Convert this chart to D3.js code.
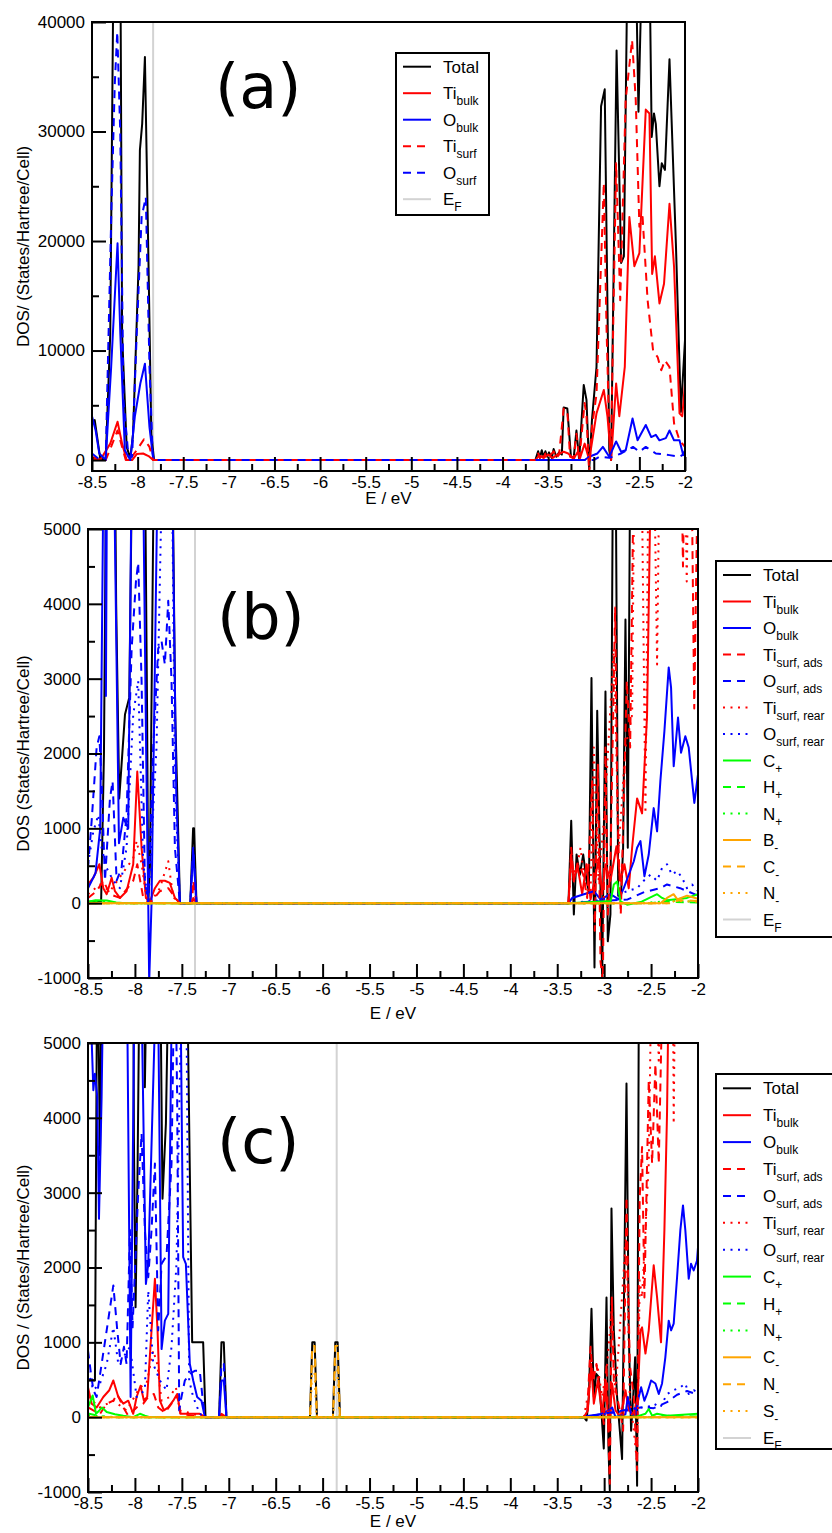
<!DOCTYPE html>
<html>
<head>
<meta charset="utf-8">
<script src="https://cdn.jsdelivr.net/npm/d3@7"></script>
<style>
body { margin: 0; background: #fff; }
svg text { font-family: "Liberation Sans", Arial, Helvetica, sans-serif; }
</style>
</head>
<body>
<svg id="chart" width="832" height="1533"></svg>
<script>
// ---- tick values ----
const xMajor = [-8.5, -8, -7.5, -7, -6.5, -6, -5.5, -5, -4.5, -4, -3.5, -3, -2.5, -2]
const xMinor = [-8.25, -7.75, -7.25, -6.75, -6.25, -5.75, -5.25, -4.75, -4.25, -3.75, -3.25, -2.75, -2.25]
const yMajorA = [0, 10000, 20000, 30000, 40000]
const yMinorA = [5000, 15000, 25000, 35000]
const yMajorBC = [-1000, 0, 1000, 2000, 3000, 4000, 5000]
const yMinorBC = [-500, 500, 1500, 2500, 3500, 4500]

// ---- Fermi energies ----
const efA = -7.83
const efB = -7.36
const efC = -5.85

// ---- legend labels [main, subscript] ----
const legendA = [["Total", ""], ["Ti", "bulk"], ["O", "bulk"], ["Ti", "surf"], ["O", "surf"], ["E", "F"]]
const legendB = [["Total", ""], ["Ti", "bulk"], ["O", "bulk"], ["Ti", "surf, ads"], ["O", "surf, ads"],
    ["Ti", "surf, rear"], ["O", "surf, rear"], ["C", "+"], ["H", "+"], ["N", "+"], ["B", "-"], ["C", "-"], ["N", "-"], ["E", "F"]]
const legendC = [["Total", ""], ["Ti", "bulk"], ["O", "bulk"], ["Ti", "surf, ads"], ["O", "surf, ads"],
    ["Ti", "surf, rear"], ["O", "surf, rear"], ["C", "+"], ["H", "+"], ["N", "+"], ["C", "-"], ["N", "-"], ["S", "-"], ["E", "F"]]

// ---- panel (a) data: [E (eV), DOS] ----
const aTotal = [[-8.5,3500],[-8.47,3650],[-8.41,150],[-8.35,0],[-8.3,11500],[-8.27,40000],[-8.25,48000],[-8.19,48000],[-8.17,11500],[-8.12,1200],[-8.08,150],[-8.05,2400],[-7.99,17600],[-7.975,28300],[-7.95,30700],[-7.92,36800],[-7.88,17600],[-7.85,2400],[-7.82,0],
    [-3.64,0],[-3.61,800],[-3.59,200],[-3.57,900],[-3.55,300],[-3.53,800],[-3.51,300],[-3.49,700],[-3.46,200],[-3.44,1000],[-3.41,300],[-3.38,700],[-3.35,500],[-3.33,4800],[-3.29,4700],[-3.25,300],[-3.22,200],[-3.19,2700],[-3.16,0],[-3.11,6850],[-3.08,5500],[-3.05,-900],[-3.02,3650],[-2.97,8500],[-2.92,32300],[-2.88,33850],[-2.83,900],[-2.81,0],[-2.75,37400],[-2.7,18000],[-2.67,18600],[-2.63,46000],[-2.54,46000],[-2.51,31800],[-2.47,46000],[-2.39,46000],[-2.365,29500],[-2.34,31650],[-2.32,30700],[-2.28,25000],[-2.255,27100],[-2.22,26500],[-2.17,36600],[-2.1,19800],[-2.045,4400],[-2.0,10960]]
const aTiBulk = [[-8.5,150],[-8.41,0],[-8.3,1500],[-8.22,3500],[-8.17,1500],[-8.12,0],[-8.06,0],[-8.01,550],[-7.94,600],[-7.88,360],[-7.83,0],
    [-3.64,0],[-3.6,400],[-3.55,200],[-3.5,500],[-3.45,200],[-3.4,500],[-3.33,760],[-3.28,600],[-3.22,100],[-3.18,700],[-3.15,200],[-3.1,1500],[-3.05,0],[-2.97,4260],[-2.89,6400],[-2.85,4000],[-2.81,0],[-2.755,7000],[-2.72,4000],[-2.66,8500],[-2.61,22200],[-2.555,17700],[-2.5,18900],[-2.43,32000],[-2.39,31650],[-2.36,17000],[-2.33,18600],[-2.28,14300],[-2.23,16100],[-2.17,23400],[-2.12,17650],[-2.06,4260],[-2.03,4000],[-2.0,7000]]
const aOBulk = [[-8.5,4000],[-8.46,2700],[-8.42,600],[-8.35,0],[-8.29,8500],[-8.22,19800],[-8.19,11600],[-8.14,900],[-8.08,0],[-8.03,4000],[-7.97,7000],[-7.92,8800],[-7.87,3000],[-7.83,150],[-7.81,0],
    [-3.1,0],[-3.05,300],[-2.96,600],[-2.9,1200],[-2.83,300],[-2.755,1700],[-2.7,760],[-2.65,900],[-2.575,3800],[-2.52,1800],[-2.43,3200],[-2.37,2100],[-2.32,2300],[-2.28,1800],[-2.21,2000],[-2.17,2700],[-2.12,1800],[-2.06,1800],[-2.02,450],[-2.0,900]]
const aTiSurf = [[-8.5,300],[-8.41,0],[-8.35,0],[-8.3,1000],[-8.22,2700],[-8.17,1200],[-8.13,0],[-8.09,0],[-8.01,900],[-7.93,1900],[-7.87,1200],[-7.83,0],
    [-3.64,0],[-3.61,600],[-3.59,200],[-3.57,700],[-3.55,200],[-3.53,600],[-3.5,300],[-3.47,500],[-3.44,800],[-3.41,200],[-3.38,500],[-3.33,4700],[-3.29,4500],[-3.26,300],[-3.22,200],[-3.19,2400],[-3.16,0],[-3.1,5200],[-3.08,4000],[-3.05,-1200],[-3.02,3000],[-2.97,6000],[-2.89,25300],[-2.86,12000],[-2.83,2400],[-2.81,1500],[-2.755,27100],[-2.71,14600],[-2.65,32900],[-2.58,38350],[-2.54,32900],[-2.5,21300],[-2.465,22200],[-2.41,14600],[-2.35,10000],[-2.3,9400],[-2.26,8200],[-2.22,9100],[-2.17,8500],[-2.12,3350],[-2.06,1800],[-2.0,1200]]
const aOSurf = [[-8.5,600],[-8.41,0],[-8.35,0],[-8.285,23700],[-8.25,34400],[-8.223,39100],[-8.19,29800],[-8.155,5500],[-8.1,300],[-8.06,300],[-8.01,11500],[-7.956,22200],[-7.91,24000],[-7.87,8500],[-7.835,600],[-7.82,0],
    [-3.0,0],[-2.94,300],[-2.83,200],[-2.7,600],[-2.57,1200],[-2.5,760],[-2.43,1200],[-2.32,600],[-2.17,450],[-2.06,300],[-2.0,600]]

// ---- panel (b) data ----
const bTotal = [[-8.5,20],[-8.36,30],[-8.33,2000],[-8.3,7000],[-8.22,7000],[-8.2,4000],[-8.167,1400],[-8.106,2520],[-8.06,2750],[-8.02,7000],[-7.9,7000],[-7.87,2500],[-7.858,0],[-7.84,500],[-7.79,7000],[-7.61,7000],[-7.57,2500],[-7.52,0],[-7.41,0],[-7.38,1000],[-7.37,1000],[-7.344,0],
    [-3.38,0],[-3.351,1100],[-3.323,-150],[-3.294,650],[-3.259,380],[-3.223,650],[-3.188,300],[-3.163,160],[-3.135,3010],[-3.103,-860],[-3.074,2570],[-3.021,-1000],[-2.986,2830],[-2.961,-510],[-2.933,-150],[-2.904,6500],[-2.88,6500],[-2.85,100],[-2.82,100],[-2.798,740],[-2.773,3790],[-2.748,740],[-2.72,6500],[-2.0,6500]]
const bTiBulk = [[-8.5,250],[-8.443,340],[-8.379,520],[-8.337,200],[-8.301,120],[-8.248,340],[-8.213,160],[-8.16,70],[-8.089,160],[-8.018,520],[-7.975,1760],[-7.929,740],[-7.883,70],[-7.84,25],[-7.787,200],[-7.734,300],[-7.681,300],[-7.628,270],[-7.574,70],[-7.521,0],[-7.39,0],[-7.379,70],[-7.344,0],
    [-3.38,0],[-3.351,650],[-3.323,290],[-3.287,520],[-3.234,120],[-3.188,520],[-3.145,50],[-3.103,300],[-3.057,600],[-3.021,120],[-2.986,520],[-2.933,300],[-2.869,760],[-2.826,300],[-2.784,520],[-2.738,200],[-2.702,740],[-2.649,1400],[-2.596,1200],[-2.543,2500],[-2.5,6000],[-2.0,6000]]
const bOBulk = [[-8.5,200],[-8.42,400],[-8.37,1000],[-8.33,6500],[-8.315,6500],[-8.309,2770],[-8.295,6500],[-8.23,6500],[-8.17,800],[-8.124,1140],[-8.071,1000],[-8.03,6500],[-7.92,6500],[-7.88,2000],[-7.858,0],[-7.848,-1050],[-7.823,0],[-7.75,6500],[-7.61,6500],[-7.56,1500],[-7.521,0],[-7.41,0],[-7.379,700],[-7.344,0],
    [-3.38,0],[-3.34,70],[-3.216,120],[-3.11,160],[-3.039,50],[-2.933,120],[-2.844,50],[-2.791,200],[-2.738,380],[-2.684,560],[-2.649,740],[-2.613,830],[-2.571,360],[-2.525,650],[-2.472,1270],[-2.436,960],[-2.401,1630],[-2.358,2300],[-2.312,3150],[-2.287,2880],[-2.259,1830],[-2.213,2480],[-2.181,2010],[-2.135,2230],[-2.099,2080],[-2.039,1340],[-2.0,1720]]
const bTiSurfAds = [[-8.5,70],[-8.408,160],[-8.337,300],[-8.266,120],[-8.16,70],[-8.018,300],[-7.975,520],[-7.911,70],[-7.84,0],[-7.734,160],[-7.645,200],[-7.557,50],[-7.521,0],[-7.39,0],[-7.379,300],[-7.344,0],
    [-3.38,0],[-3.351,740],[-3.323,300],[-3.27,520],[-3.223,380],[-3.181,70],[-3.128,1630],[-3.1,-370],[-3.067,1850],[-3.039,-780],[-3.014,-1040],[-2.986,2080],[-2.961,-150],[-2.933,520],[-2.883,3950],[-2.858,1190],[-2.823,-150],[-2.794,1190],[-2.759,2970],[-2.723,2080],[-2.688,5500],[-2.65,7000],[-2.6,9000],[-2.54,8000],[-2.47,9000],[-2.4,12000],[-2.26,15000],[-2.19,7000],[-2.16,4500],[-2.13,7000],[-2.07,6000],[-2.04,2600],[-2.0,6000]]
const bOSurfAds = [[-8.5,470],[-8.461,1100],[-8.408,2080],[-8.379,2230],[-8.355,1630],[-8.319,300],[-8.266,1400],[-8.238,1630],[-8.195,300],[-8.142,470],[-8.089,1180],[-8.035,3400],[-7.989,4300],[-7.965,4550],[-7.929,2970],[-7.894,300],[-7.858,0],[-7.805,2080],[-7.752,3400],[-7.716,3500],[-7.681,3190],[-7.645,4040],[-7.61,2970],[-7.574,740],[-7.521,0],[-7.41,0],[-7.379,740],[-7.344,0],
    [-3.38,0],[-2.75,50],[-2.57,150],[-2.4,200],[-2.33,250],[-2.19,200],[-2.0,100]]
const bTiSurfRear = [[-8.5,120],[-8.372,250],[-8.266,160],[-8.018,600],[-7.982,830],[-7.929,520],[-7.876,70],[-7.84,0],[-7.734,200],[-7.645,560],[-7.592,80],[-7.521,0],
    [-3.38,0],[-3.351,520],[-3.305,380],[-3.252,740],[-3.198,200],[-3.145,130],[-3.11,2080],[-3.06,300],[-2.996,1200],[-2.898,3400],[-2.844,740],[-2.773,2080],[-2.702,2520],[-2.67,7000],[-2.61,7000],[-2.56,1200],[-2.52,7000],[-2.48,7000],[-2.436,3190],[-2.4,7000],[-2.15,7000],[-2.12,4300],[-2.09,7000],[-2.0,7000]]
const bOSurfRear = [[-8.5,520],[-8.443,960],[-8.39,1180],[-8.355,740],[-8.301,470],[-8.23,300],[-8.16,200],[-8.089,740],[-8.018,2520],[-7.965,2970],[-7.911,520],[-7.858,0],[-7.77,2080],[-7.699,6500],[-7.61,6500],[-7.574,1630],[-7.521,0],
    [-3.38,0],[-3.04,40],[-2.755,160],[-2.649,200],[-2.578,300],[-2.507,380],[-2.436,300],[-2.383,470],[-2.33,520],[-2.277,380],[-2.223,430],[-2.17,340],[-2.117,200],[-2.064,250],[-2.0,160]]
const bCPlus = [[-8.5,20],[-8.42,40],[-8.3,35],[-8.2,10],[-8.1,0],[-3.38,0],[-2.93,30],[-2.897,250],[-2.862,290],[-2.826,25],[-2.755,-20],[-2.6,20],[-2.436,120],[-2.383,70],[-2.33,40],[-2.117,70],[-2.0,120]]
const bHPlus = [[-8.5,0],[-8.4,15],[-8.3,0],[-2.5,0],[-2.4,20],[-2.0,10]]
const bNPlus = [[-8.5,10],[-8.35,20],[-8.2,0],[-2.6,0],[-2.3,30],[-2.0,20]]
const bBMinus = [[-8.5,0],[-2.4,0],[-2.33,70],[-2.26,120],[-2.22,50],[-2.117,100],[-2.0,60]]
const bCMinus = [[-8.5,0],[-2.3,0],[-2.2,40],[-2.0,30]]
const bNMinus = [[-8.5,0],[-2.3,0],[-2.25,30],[-2.0,20]]

// ---- panel (c) data ----
const cTotal = [[-8.5,490],[-8.426,490],[-8.401,6500],[-8.372,3500],[-8.351,6500],[-8.018,6500],[-8.011,3740],[-7.993,1470],[-7.972,3300],[-7.947,6500],[-7.9,6500],[-7.894,4410],[-7.869,6500],[-7.734,6500],[-7.706,2920],[-7.67,3920],[-7.635,6500],[-7.45,6500],[-7.39,1000],[-7.273,1000],[-7.248,0],[-7.103,0],[-7.078,1000],[-7.053,1000],[-7.025,0],
    [-6.135,0],[-6.11,1000],[-6.085,1000],[-6.06,0],[-5.89,0],[-5.865,1000],[-5.84,1000],[-5.815,0],
    [-3.216,0],[-3.188,-45],[-3.163,270],[-3.135,1450],[-3.11,270],[-3.085,580],[-3.057,535],[-3.028,50],[-3.004,-420],[-2.975,1600],[-2.954,-400],[-2.94,-980],[-2.922,2790],[-2.897,1160],[-2.862,270],[-2.833,-180],[-2.809,-560],[-2.784,2050],[-2.762,4460],[-2.738,1160],[-2.713,-180],[-2.691,270],[-2.67,800],[-2.649,-915],[-2.628,6500],[-2.0,6500]]
const cTiBulk = [[-8.5,400],[-8.461,180],[-8.408,130],[-8.337,270],[-8.273,360],[-8.23,490],[-8.177,270],[-8.124,180],[-8.071,220],[-8.018,45],[-7.982,270],[-7.94,420],[-7.904,220],[-7.869,270],[-7.823,1160],[-7.787,1850],[-7.759,1160],[-7.734,220],[-7.691,90],[-7.645,130],[-7.592,220],[-7.55,310],[-7.514,45],[-7.45,45],[-7.309,45],[-7.248,0],[-7.103,0],[-7.078,45],[-7.025,0],
    [-3.216,0],[-3.174,90],[-3.138,710],[-3.11,180],[-3.067,490],[-3.021,45],[-2.986,490],[-2.95,-180],[-2.915,450],[-2.879,90],[-2.826,0],[-2.773,360],[-2.738,90],[-2.684,45],[-2.642,270],[-2.613,1160],[-2.596,1200],[-2.56,850],[-2.525,1160],[-2.472,2030],[-2.436,1600],[-2.394,1000],[-2.358,2500],[-2.33,4060],[-2.305,6500],[-2.0,6500]]
const cOBulk = [[-8.5,6500],[-8.443,4370],[-8.426,4590],[-8.401,4280],[-8.383,2650],[-8.355,4280],[-8.33,6500],[-8.089,6500],[-8.046,270],[-8.0,6500],[-7.94,6500],[-7.883,1780],[-7.858,2050],[-7.76,6500],[-7.716,910],[-7.681,1290],[-7.645,1380],[-7.599,6500],[-7.521,6500],[-7.486,2140],[-7.457,2050],[-7.415,710],[-7.379,490],[-7.337,270],[-7.291,220],[-7.255,0],[-7.103,0],[-7.078,490],[-7.053,490],[-7.025,0],
    [-3.216,0],[-3.163,20],[-3.039,40],[-2.95,90],[-2.915,130],[-2.879,0],[-2.826,20],[-2.773,40],[-2.748,270],[-2.713,40],[-2.667,20],[-2.631,270],[-2.606,400],[-2.571,220],[-2.543,310],[-2.5,490],[-2.454,450],[-2.418,310],[-2.383,450],[-2.348,800],[-2.312,1290],[-2.287,1160],[-2.259,1250],[-2.223,1870],[-2.188,2500],[-2.16,2830],[-2.135,2500],[-2.099,1850],[-2.074,2050],[-2.046,1960],[-2.011,2090],[-2.0,2270]]
const cTiSurfAds = [[-8.5,130],[-8.443,90],[-8.372,45],[-8.301,180],[-8.23,220],[-8.188,310],[-8.124,130],[-8.071,20],[-7.982,130],[-7.911,180],[-7.858,270],[-7.798,310],[-7.752,130],[-7.681,60],[-7.61,180],[-7.55,290],[-7.514,40],[-7.248,0],
    [-3.216,0],[-3.181,90],[-3.145,940],[-3.117,490],[-3.082,710],[-3.039,270],[-3.004,-90],[-2.975,710],[-2.94,-890],[-2.918,1600],[-2.897,490],[-2.826,45],[-2.798,-180],[-2.762,2940],[-2.727,710],[-2.684,270],[-2.649,-710],[-2.621,2940],[-2.596,3610],[-2.571,1600],[-2.525,4500],[-2.489,3390],[-2.454,4720],[-2.418,3390],[-2.383,5500],[-2.259,8000],[-2.0,9000]]
const cOSurfAds = [[-8.5,890],[-8.472,620],[-8.443,360],[-8.408,270],[-8.355,710],[-8.301,1160],[-8.23,1760],[-8.188,1160],[-8.152,710],[-8.117,940],[-8.089,710],[-8.053,2500],[-8.025,1200],[-7.965,3000],[-7.929,3790],[-7.894,2500],[-7.858,1870],[-7.823,2500],[-7.787,3390],[-7.752,1160],[-7.716,2050],[-7.663,2160],[-7.61,3390],[-7.574,6500],[-7.55,4280],[-7.528,90],[-7.504,270],[-7.468,490],[-7.415,580],[-7.362,620],[-7.309,620],[-7.273,180],[-7.248,0],[-7.103,0],[-7.078,710],[-7.053,710],[-7.025,0],
    [-3.216,0],[-2.613,130],[-2.472,120],[-2.33,200],[-2.223,300],[-2.117,350],[-2.0,300]]
const cTiSurfRear = [[-8.5,270],[-8.372,130],[-8.23,220],[-8.089,90],[-7.947,400],[-7.876,450],[-7.805,890],[-7.762,710],[-7.716,220],[-7.628,270],[-7.564,400],[-7.521,90],[-7.248,0],
    [-3.216,0],[-3.145,490],[-3.074,710],[-3.021,270],[-2.968,710],[-2.918,1470],[-2.88,300],[-2.762,2500],[-2.727,270],[-2.684,-180],[-2.649,-620],[-2.621,1830],[-2.596,1600],[-2.56,2500],[-2.525,3390],[-2.49,6500],[-2.45,6500],[-2.418,4720],[-2.39,6500],[-2.27,6500],[-2.259,3920],[-2.24,6500],[-2.0,6500]]
const cOSurfRear = [[-8.5,620],[-8.443,360],[-8.372,450],[-8.301,710],[-8.23,1200],[-8.177,710],[-8.124,800],[-8.053,940],[-7.982,270],[-7.894,360],[-7.858,1690],[-7.805,710],[-7.734,490],[-7.663,360],[-7.61,940],[-7.557,2050],[-7.493,6500],[-7.457,6500],[-7.422,490],[-7.379,270],[-7.309,45],[-7.248,0],
    [-3.216,0],[-2.755,90],[-2.613,130],[-2.543,130],[-2.472,180],[-2.401,130],[-2.33,310],[-2.259,360],[-2.188,400],[-2.135,450],[-2.099,310],[-2.046,360],[-2.0,330]]
const cCPlus = [[-8.5,130],[-8.45,290],[-8.415,45],[-8.379,90],[-8.351,130],[-8.301,70],[-8.213,40],[-8.124,20],[-8.018,0],[-7.947,45],[-7.894,20],[-7.84,0],[-3.216,0],[-2.649,10],[-2.56,45],[-2.525,110],[-2.489,20],[-2.436,45],[-2.33,20],[-2.0,45]]
const cHPlus = [[-8.5,50],[-8.4,20],[-8.3,0],[-2.5,0],[-2.4,20],[-2.0,10]]
const cNPlus = [[-8.5,30],[-8.35,10],[-8.2,0],[-2.0,0]]
const cCMinus = [[-8.5,0],[-2.0,0]]
const cNMinus = [[-8.5,0],[-6.135,0],[-6.11,950],[-6.085,950],[-6.06,0],[-5.89,0],[-5.865,950],[-5.84,950],[-5.815,0],[-2.0,0]]
const cSMinus = [[-8.5,0],[-6.13,0],[-6.11,700],[-6.09,700],[-6.065,0],[-5.885,0],[-5.865,700],[-5.845,700],[-5.82,0],[-2.0,0]]

// ---- styles ----
const BLACK = "#000000", RED = "#ff0000", BLUE = "#0000ff", GREEN = "#00ff00", ORANGE = "#ffa500", GRAY = "#d3d3d3"
const DASH = "8,6", DOT = "2,5.5"

function st(data, color, dash) { return { data: data, color: color, dash: dash } }

const panels = [
    {
        id: "a", l: 92, r: 685, t: 22, b: 471, yDomain: [-1000, 40000], yMajor: yMajorA, yMinor: yMinorA, ef: efA,
        series: [st(aTotal, BLACK), st(aTiBulk, RED), st(aOBulk, BLUE), st(aTiSurf, RED, DASH), st(aOSurf, BLUE, DASH)],
        legend: legendA, lg: { x: 396, y: 53, w: 93, h: 162, row0: 66.7, step: 26.5, lx: 403 },
        tag: { x: 215, y: 108 }, yTitle: "DOS/ (States/Hartree/Cell)", xTitleY: 504
    },
    {
        id: "b", l: 88, r: 698, t: 529, b: 978, yDomain: [-1000, 5000], yMajor: yMajorBC, yMinor: yMinorBC, ef: efB,
        series: [st(bTotal, BLACK), st(bTiBulk, RED), st(bOBulk, BLUE), st(bTiSurfAds, RED, DASH), st(bOSurfAds, BLUE, DASH),
            st(bTiSurfRear, RED, DOT), st(bOSurfRear, BLUE, DOT), st(bCPlus, GREEN), st(bHPlus, GREEN, DASH), st(bNPlus, GREEN, DOT),
            st(bBMinus, ORANGE), st(bCMinus, ORANGE, DASH), st(bNMinus, ORANGE, DOT)],
        legend: legendB, lg: { x: 716, y: 561, w: 130, h: 376, row0: 575, step: 26.5, lx: 723 },
        tag: { x: 217, y: 638 }, yTitle: "DOS (States/Hartree/Cell)", xTitleY: 1019
    },
    {
        id: "c", l: 88, r: 698, t: 1043, b: 1492, yDomain: [-1000, 5000], yMajor: yMajorBC, yMinor: yMinorBC, ef: efC,
        series: [st(cTotal, BLACK), st(cTiBulk, RED), st(cOBulk, BLUE), st(cTiSurfAds, RED, DASH), st(cOSurfAds, BLUE, DASH),
            st(cTiSurfRear, RED, DOT), st(cOSurfRear, BLUE, DOT), st(cCPlus, GREEN), st(cHPlus, GREEN, DASH), st(cNPlus, GREEN, DOT),
            st(cCMinus, ORANGE), st(cNMinus, ORANGE, DASH), st(cSMinus, ORANGE, DOT)],
        legend: legendC, lg: { x: 716, y: 1074, w: 130, h: 375, row0: 1088.3, step: 26.9, lx: 723 },
        tag: { x: 217, y: 1163 }, yTitle: "DOS / (States/Hartree/Cell)", xTitleY: 1527
    }
]

const svg = d3.select("#chart")

panels.forEach(function (p) {
    const x = d3.scaleLinear().domain([-8.5, -2]).range([p.l, p.r])
    const y = d3.scaleLinear().domain(p.yDomain).range([p.b, p.t])
    const g = svg.append("g")

    g.append("clipPath").attr("id", "clip-" + p.id)
        .append("rect").attr("x", p.l).attr("y", p.t).attr("width", p.r - p.l).attr("height", p.b - p.t)

    const plot = g.append("g").attr("clip-path", "url(#clip-" + p.id + ")")

    // Fermi level, drawn behind the curves
    plot.append("line")
        .attr("x1", x(p.ef)).attr("x2", x(p.ef))
        .attr("y1", p.t).attr("y2", p.b)
        .attr("stroke", GRAY).attr("stroke-width", 2)

    const line = d3.line().x(d => x(d[0])).y(d => y(d[1]))
    p.series.forEach(function (s) {
        plot.append("path")
            .attr("d", line(s.data))
            .attr("fill", "none")
            .attr("stroke", s.color)
            .attr("stroke-width", 2)
            .attr("stroke-linejoin", "round")
            .attr("stroke-dasharray", s.dash || null)
    })

    // axes: inward ticks, no domain path
    g.append("g").attr("transform", "translate(0," + p.b + ")")
        .call(d3.axisBottom(x).tickValues(xMajor).tickSize(-14).tickPadding(5).tickFormat(d => String(d)))
    g.append("g").attr("transform", "translate(0," + p.b + ")")
        .call(d3.axisBottom(x).tickValues(xMinor).tickSize(-7).tickFormat(""))
    g.append("g").attr("transform", "translate(" + p.l + ",0)")
        .call(d3.axisLeft(y).tickValues(p.yMajor).tickSize(-14).tickPadding(7).tickFormat(d => String(d)))
    g.append("g").attr("transform", "translate(" + p.l + ",0)")
        .call(d3.axisLeft(y).tickValues(p.yMinor).tickSize(-7).tickFormat(""))

    g.selectAll(".domain").remove()
    g.selectAll(".tick line").attr("stroke", "#000").attr("stroke-width", 2)
    g.selectAll(".tick text").attr("fill", "#000").style("font-size", "17px")
        .style("font-family", '"Liberation Sans", Arial, Helvetica, sans-serif')

    // frame
    g.append("rect")
        .attr("x", p.l).attr("y", p.t).attr("width", p.r - p.l).attr("height", p.b - p.t)
        .attr("fill", "none").attr("stroke", "#000").attr("stroke-width", 2)

    // axis titles
    g.append("text")
        .attr("transform", "translate(29," + ((p.t + p.b) / 2) + ") rotate(-90)")
        .attr("text-anchor", "middle").style("font-size", "17px")
        .text(p.yTitle)
    g.append("text")
        .attr("x", (p.l + p.r) / 2).attr("y", p.xTitleY)
        .attr("text-anchor", "middle").style("font-size", "17px")
        .text("E / eV")

    // panel tag
    g.append("text")
        .attr("x", p.tag.x).attr("y", p.tag.y)
        .style("font-family", '"DejaVu Sans", sans-serif').style("font-size", "62px")
        .text("(" + p.id + ")")

    // legend
    const lg = p.lg
    g.append("rect")
        .attr("x", lg.x).attr("y", lg.y).attr("width", lg.w).attr("height", lg.h)
        .attr("fill", "#fff").attr("stroke", "#000").attr("stroke-width", 2)
    const styles = p.series.map(s => ({ color: s.color, dash: s.dash })).concat([{ color: GRAY }])
    p.legend.forEach(function (lab, i) {
        const ly = lg.row0 + i * lg.step
        g.append("line")
            .attr("x1", lg.lx).attr("x2", lg.lx + 28).attr("y1", ly).attr("y2", ly)
            .attr("stroke", styles[i].color).attr("stroke-width", 2)
            .attr("stroke-dasharray", styles[i].dash || null)
        const t = g.append("text").attr("x", lg.lx + 40).attr("y", ly + 6).style("font-size", "17px")
        t.append("tspan").text(lab[0])
        if (lab[1]) t.append("tspan").attr("dy", 6).style("font-size", "12px").text(lab[1])
    })
})
</script>
</body>
</html>
